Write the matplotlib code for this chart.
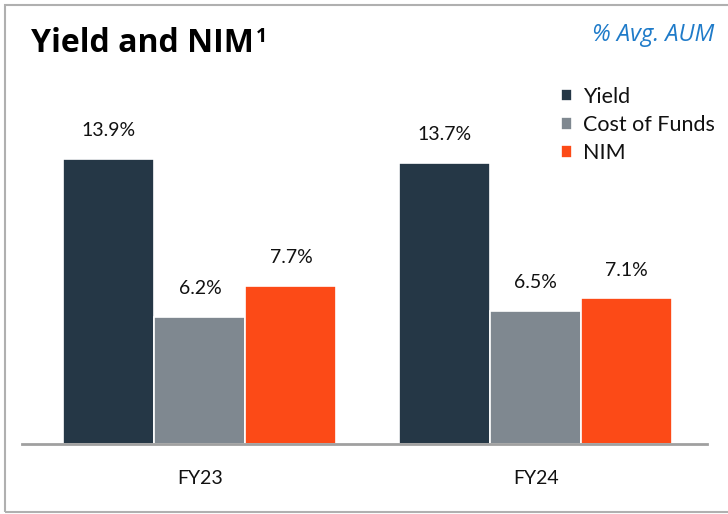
import matplotlib
matplotlib.use("Agg")
import matplotlib.pyplot as plt
from matplotlib.patches import Rectangle
import numpy as np

categories = ["FY23", "FY24"]
series = ["Yield", "Cost of Funds", "NIM"]
yield_vals = [13.9, 13.7]
cof_vals = [6.2, 6.5]
nim_vals = [7.7, 7.1]
colors = ["#253746", "#7F8890", "#FC4A17"]

plt.rcParams['font.family'] = ['Lato', 'DejaVu Sans']

fig = plt.figure(figsize=(7.28, 5.14), dpi=100)
fig.patch.set_facecolor("white")

# outer border
fig.add_artist(Rectangle((5/728, 1 - 512/514), 1.0, 507/514, transform=fig.transFigure,
                         fill=False, edgecolor="#B0B0B0", linewidth=1.5))

ax = fig.add_axes([22/728, (514-444)/514, (707-22)/728, (444-60)/514])
x = np.arange(len(categories))
w = 0.271
for i, (vals, c) in enumerate(zip([yield_vals, cof_vals, nim_vals], colors)):
    pos = x + (i - 1) * w
    ax.bar(pos, vals, width=w, color=c, edgecolor="white", linewidth=1.2, label=series[i], zorder=2)
    for p, v in zip(pos, vals):
        ax.annotate(f"{v:.1f}%", (p, v), xytext=(0, 14), textcoords="offset points",
                    ha="center", va="bottom", fontsize=14, color="#111111")

ax.set_xlim(-0.53, 1.51)
ax.set_ylim(0, 18.7)
for s in ["top", "right", "left"]:
    ax.spines[s].set_visible(False)
ax.spines["bottom"].set_color("#A0A0A0")
ax.spines["bottom"].set_linewidth(2)
ax.set_yticks([])
ax.set_xticks(x)
ax.set_xticklabels(categories, fontsize=14, color="#111111")
ax.tick_params(axis="x", length=0, pad=19)

leg = ax.legend(loc="upper left", bbox_to_anchor=((552-22)/685, (444-78)/384), frameon=False,
                fontsize=15.5, handlelength=0.55, handleheight=0.55, handletextpad=0.5,
                labelspacing=0.38, borderaxespad=0)
for t in leg.get_texts():
    t.set_color("#111111")

title = fig.text(31/728, 1 - 52/514, "Yield and NIM", fontsize=23, fontweight="bold",
                 ha="left", va="baseline", color="#000000", family="Open Sans")
fig.canvas.draw()
bb = title.get_window_extent(renderer=fig.canvas.get_renderer())
fig.text((bb.x1 + 2) / 728, 1 - 42/514, "1", fontsize=14, fontweight="bold",
         ha="left", va="baseline", color="#000000", family="Open Sans")
fig.text(714/728, 1 - 41/514, "% Avg. AUM", fontsize=17, style="italic",
         ha="right", va="baseline", color="#1F7BC9", family="Open Sans")

fig.savefig("out.png", dpi=100, facecolor="white")
